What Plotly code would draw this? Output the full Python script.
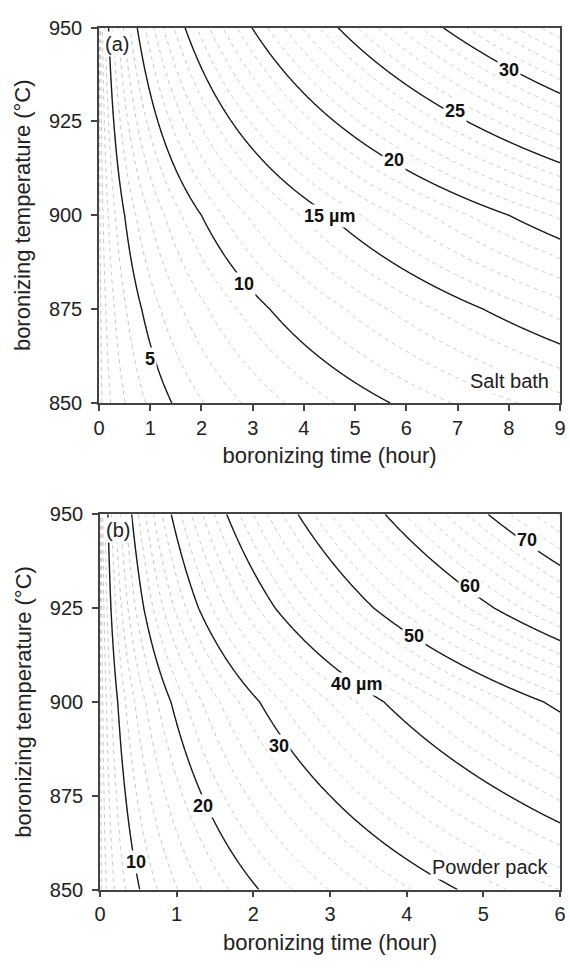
import numpy as np
import plotly.graph_objects as go

# ---- data ----
temps = [850, 875, 900, 925, 950]                 # boronizing temperature (°C)
k2_salt = [17.6, 30.0, 50.0, 87.0, 134.0]         # growth constant d^2/t (µm^2/h), salt bath
k2_powder = [193.0, 300.0, 432.0, 700.0, 968.0]   # growth constant d^2/t (µm^2/h), powder pack

salt_labels = ["5", "10", "15 µm", "20", "25", "30"]
salt_label_t = [0.99, 2.83, 4.49, 5.76, 6.94, 8.01]
salt_label_T = [861.7, 881.8, 899.7, 914.6, 927.9, 938.8]

powder_labels = ["10", "20", "30", "40 µm", "50", "60", "70"]
powder_label_t = [0.47, 1.35, 2.33, 3.35, 4.10, 4.83, 5.57]
powder_label_T = [857.3, 872.4, 888.3, 904.7, 917.7, 931.0, 943.2]

salt_tmax = 9
powder_tmax = 6
x_ticks_salt = list(range(0, 10))
x_ticks_powder = list(range(0, 7))
y_ticks = [850, 875, 900, 925, 950]

FONT = "Liberation Sans, Arial, sans-serif"


def time_grid(tmax):
    return np.unique(np.concatenate([np.linspace(0, 0.3, 301),
                                     np.linspace(0.3, tmax, 900)]))


def thickness_table(k2, t):
    return [list(np.sqrt(k * t)) for k in k2]


fig = go.Figure()

panels = [
    dict(k2=k2_salt, tmax=salt_tmax, minor=1, major=5, xa="x", ya="y"),
    dict(k2=k2_powder, tmax=powder_tmax, minor=2, major=10, xa="x2", ya="y2"),
]
for p in panels:
    t = time_grid(p["tmax"])
    z = thickness_table(p["k2"], t)
    zmax = float(np.max(z))
    fig.add_trace(go.Contour(
        x=t, y=temps, z=z, xaxis=p["xa"], yaxis=p["ya"],
        contours=dict(start=p["minor"], end=zmax, size=p["minor"], coloring="none"),
        line=dict(color="#c4c4c4", width=1, dash="4px,4px"),
        showscale=False, hoverinfo="skip", showlegend=False))
    fig.add_trace(go.Contour(
        x=t, y=temps, z=z, xaxis=p["xa"], yaxis=p["ya"],
        contours=dict(start=p["major"], end=zmax, size=p["major"], coloring="none"),
        line=dict(color="#1a1a1a", width=1.4),
        showscale=False, hoverinfo="skip", showlegend=False))

LBL = dict(size=18, color="#111", family=FONT)
annotations = []
for txt, tx, ty in zip(salt_labels, salt_label_t, salt_label_T):
    annotations.append(dict(x=tx, y=ty, xref="x", yref="y", text=f"<b>{txt}</b>",
                            showarrow=False, bgcolor="white", borderpad=1, font=LBL))
for txt, tx, ty in zip(powder_labels, powder_label_t, powder_label_T):
    annotations.append(dict(x=tx, y=ty, xref="x2", yref="y2", text=f"<b>{txt}</b>",
                            showarrow=False, bgcolor="white", borderpad=1, font=LBL))

TXT = dict(size=20, color="#222", family=FONT)
annotations += [
    dict(x=0.008, y=0.992, xref="x domain", yref="y domain", text="(a)", showarrow=False,
         xanchor="left", yanchor="top", bgcolor="white", borderpad=1, font=TXT),
    dict(x=0.98, y=0.025, xref="x domain", yref="y domain", text="Salt bath", showarrow=False,
         xanchor="right", yanchor="bottom", bgcolor="white", borderpad=1, font=TXT),
    dict(x=0.008, y=0.992, xref="x2 domain", yref="y2 domain", text="(b)", showarrow=False,
         xanchor="left", yanchor="top", bgcolor="white", borderpad=1, font=TXT),
    dict(x=0.98, y=0.025, xref="x2 domain", yref="y2 domain", text="Powder pack", showarrow=False,
         xanchor="right", yanchor="bottom", bgcolor="white", borderpad=1, font=TXT),
]

axis_common = dict(showline=True, linecolor="#444", linewidth=1.5, mirror=True,
                   ticks="outside", ticklen=6, tickwidth=1.5, tickcolor="#444",
                   showgrid=False, zeroline=False, ticklabeloverflow="allow",
                   tickfont=dict(size=20, color="#222", family=FONT))

xtitle = dict(text="boronizing time (hour)", font=dict(size=22, color="#222", family=FONT), standoff=10)
ytitle = dict(text="boronizing temperature (°C)", font=dict(size=22, color="#222", family=FONT), standoff=12)

fig.update_layout(
    width=570, height=970,
    margin=dict(l=0, r=0, t=0, b=0),
    paper_bgcolor="white", plot_bgcolor="white",
    xaxis=dict(domain=[95 / 570, 566 / 570], range=[0, salt_tmax], tickvals=x_ticks_salt,
               anchor="y", title=xtitle, **axis_common),
    yaxis=dict(domain=[(970 - 401) / 970, (970 - 17) / 970], range=[850, 950], tickvals=y_ticks,
               anchor="x", title=ytitle, ticklabelstandoff=5, **axis_common),
    xaxis2=dict(domain=[96 / 570, 566 / 570], range=[0, powder_tmax], tickvals=x_ticks_powder,
                anchor="y2", title=xtitle, **axis_common),
    yaxis2=dict(domain=[(970 - 899) / 970, (970 - 515) / 970], range=[850, 950], tickvals=y_ticks,
                anchor="x2", title=ytitle, ticklabelstandoff=5, **axis_common),
    annotations=annotations,
)

fig.write_html("out.html")
